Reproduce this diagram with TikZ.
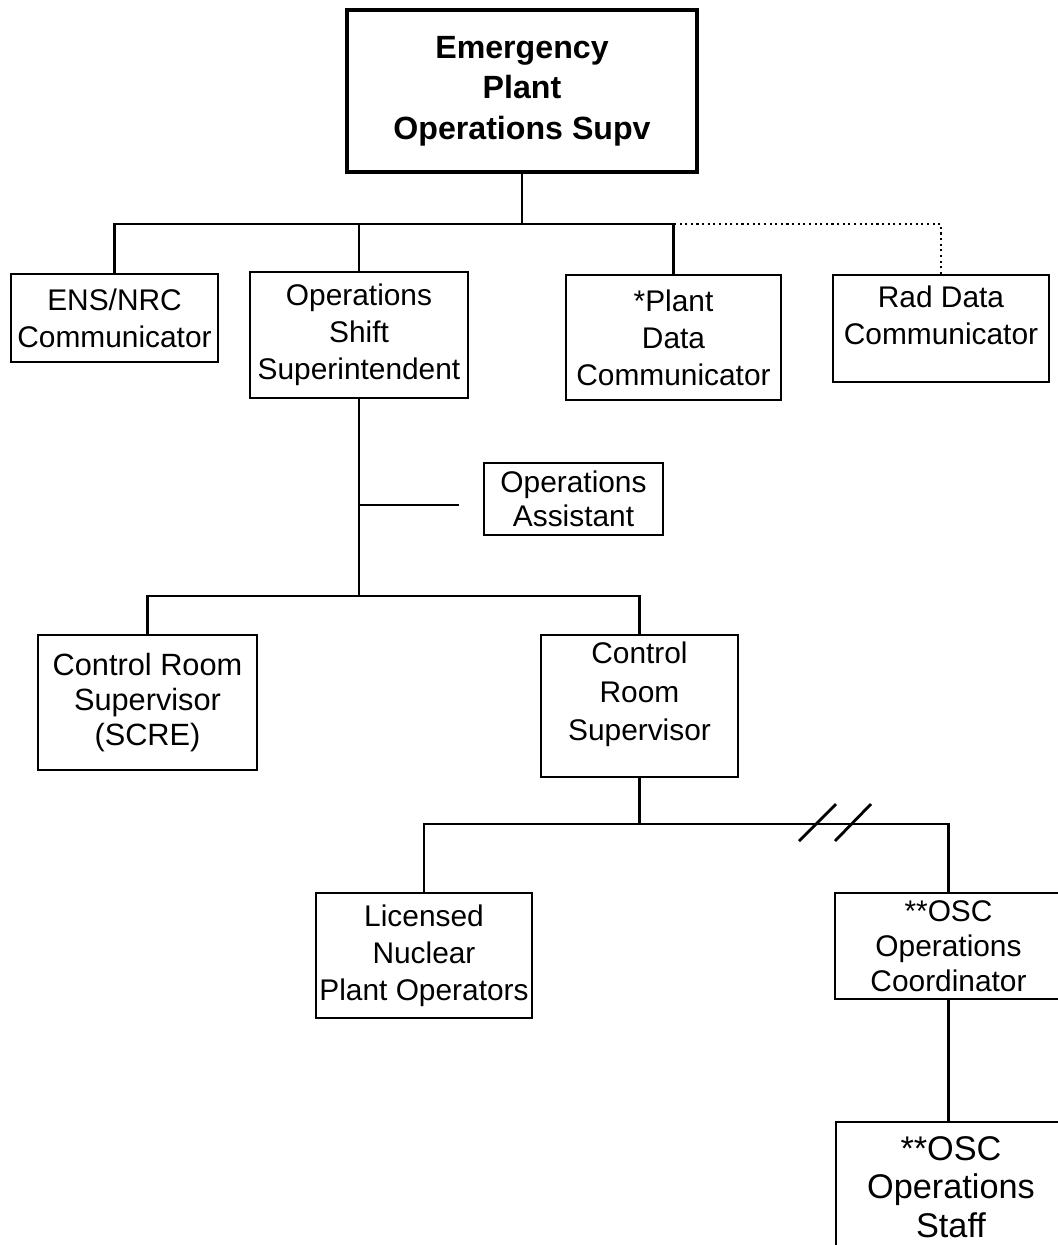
\documentclass[tikz,border=0pt]{standalone}
\usepackage{fontspec}
\setmainfont{Liberation Sans}
\begin{document}
\begin{tikzpicture}[x=0.02cm,y=-0.02cm,
  box/.style={draw=black,line width=1.2pt,align=center,inner sep=0pt,font=\fontsize{17}{21}\selectfont},
  link/.style={draw=black,line width=1.2pt}]
  \useasboundingbox (0,0) rectangle (1058,1245);
  \node[box,line width=2.3pt,minimum width=7cm,minimum height=3.24cm,font=\bfseries\fontsize{18.3}{23}\selectfont] (eps) at (522,91) {Emergency\\Plant\\Operations Supv};
  \node[box,minimum width=4.14cm,minimum height=1.76cm] (ens) at (114.5,318) {ENS/NRC\\Communicator};
  \node[box,minimum width=4.36cm,minimum height=2.52cm] (oss) at (359,335) {Operations\\Shift\\Superintendent};
  \node[box,minimum width=4.3cm,minimum height=2.5cm] (pdc) at (673.5,337.5) {*Plant\\Data\\Communicator};
  \node[box,minimum width=4.32cm,minimum height=2.14cm] (rdc) at (941,328.5) {Rad Data\\Communicator\\[-0.22cm]};
  \node[box,minimum width=3.58cm,minimum height=1.44cm,font=\fontsize{17}{19}\selectfont] (opa) at (573.5,499) {Operations\\Assistant};
  \node[box,minimum width=4.38cm,minimum height=2.7cm,font=\fontsize{17.5}{20}\selectfont] (crs1) at (147.5,702.5) {Control Room\\Supervisor\\(SCRE)};
  \node[box,minimum width=3.94cm,minimum height=2.84cm,font=\fontsize{17}{22}\selectfont] (crs2) at (639.5,706) {Control\\Room\\Supervisor\\[-0.18cm]};
  \node[box,minimum width=4.32cm,minimum height=2.5cm] (lnpo) at (424,955.5) {Licensed\\Nuclear\\Plant Operators};
  \node[box,minimum width=4.54cm,minimum height=2.12cm,font=\fontsize{17}{20}\selectfont] (oscc) at (948.5,946) {**OSC\\Operations\\Coordinator};
  \node[box,minimum width=4.6cm,minimum height=2.6cm,font=\fontsize{19.5}{22}\selectfont] (oscs) at (951,1187) {**OSC\\Operations\\Staff};

  \draw[link] (eps.south) -- ++(0,50) coordinate (b1);
  \draw[link] (ens.north) |- (b1);
  \draw[link] (oss.north) |- (b1);
  \draw[link] (pdc.north) |- (b1);
  \coordinate (pdcup) at (pdc.north |- b1);
  \draw[link,dotted] (rdc.north) |- (pdcup);
  \draw[link] (oss.south) -- ++(0,197) coordinate (b2);
  \coordinate (opaend) at (459,505);
  \draw[link] (oss.south |- opaend) -- (opaend);
  \draw[link] (crs1.north) |- (b2) -| (crs2.north);
  \draw[link] (crs2.south) -- ++(0,46) coordinate (b3);
  \draw[link] (lnpo.north) |- (b3) -| (oscc.north);
  \coordinate (brk) at (835,823);
  \draw[line width=1.6pt] ([shift={(-36,18)}]brk) -- ([shift={(1,-19)}]brk)
    ([shift={(0,18)}]brk) -- ([shift={(36,-19)}]brk);
  \draw[link] (oscc.south) -- (oscc.south |- oscs.north);
\end{tikzpicture}
\end{document}
